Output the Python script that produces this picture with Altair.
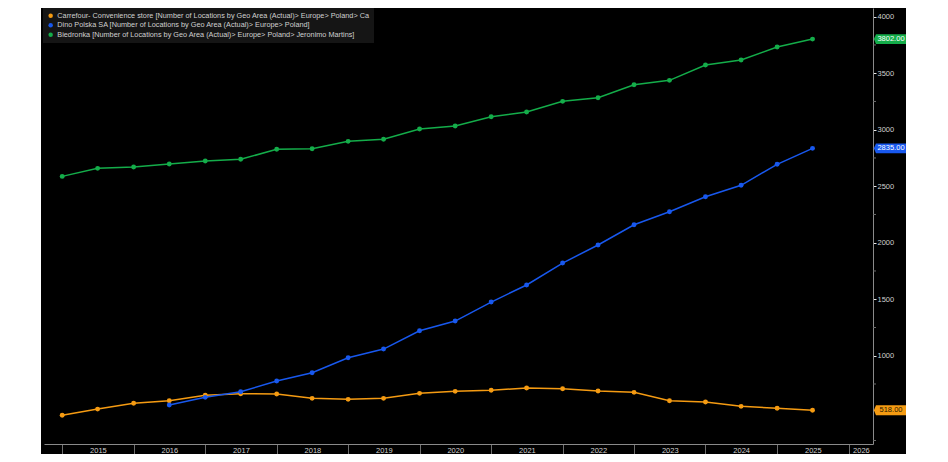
import altair as alt
import pandas as pd

# ---- data ----
dates = [f"{y}-{m}-01" for y in range(2015, 2026) for m in ("01", "07")]

carrefour_name = "Carrefour- Convenience store [Number of Locations by Geo Area (Actual)> Europe> Poland> Ca"
dino_name = "Dino Polska SA [Number of Locations by Geo Area (Actual)> Europe> Poland]"
biedronka_name = "Biedronka [Number of Locations by Geo Area (Actual)> Europe> Poland> Jeronimo Martins]"

carrefour = [473, 528, 579, 602, 650, 664, 661, 623, 614, 623, 667, 685,
             694, 714, 708, 688, 676, 602, 590, 552, 535, 518]
dino_dates = dates[3:]
dino = [564, 632, 681, 776, 850, 982, 1059, 1221, 1307, 1475, 1626, 1820,
        1980, 2159, 2274, 2407, 2508, 2694, 2835]
biedronka = [2587, 2658, 2670, 2696, 2723, 2738, 2827, 2832, 2897, 2915, 3006, 3033,
             3115, 3157, 3251, 3283, 3398, 3437, 3573, 3617, 3732, 3802]

series_names = [carrefour_name, dino_name, biedronka_name]
series_colors = ["#F59B12", "#1858EE", "#14AD4A"]
last_labels = ["518.00", "2835.00", "3802.00"]
last_values = [518, 2835, 3802]

year_ticks = list(range(2015, 2027))
y_major = list(range(1000, 4001, 500))
y_minor = list(range(250, 4001, 500))

# ---- tables ----
rows = []
for d, v in zip(dates, carrefour):
    rows.append({"date": d, "series": carrefour_name, "value": v})
for d, v in zip(dino_dates, dino):
    rows.append({"date": d, "series": dino_name, "value": v})
for d, v in zip(dates, biedronka):
    rows.append({"date": d, "series": biedronka_name, "value": v})
df = pd.DataFrame(rows)

last_df = pd.DataFrame({"series": series_names, "value": last_values, "label": last_labels})
minor_df = pd.DataFrame({"tick": y_minor})

W, H = 829, 436
FONT = "Liberation Sans"

x_scale = alt.Scale(
    type="utc",
    domain=[alt.DateTime(year=2014, month=9, date=30, utc=True),
            alt.DateTime(year=2026, month=5, date=6, utc=True)],
)
y_scale = alt.Scale(domain=[219, 4077], nice=False, zero=False)
color_scale = alt.Scale(domain=series_names, range=series_colors)

x_axis = alt.Axis(
    title=None,
    values=[alt.DateTime(year=y, month=1, date=1, utc=True) for y in year_ticks],
    format="%Y",
    formatType="utc",
    grid=False,
    domainColor="#8a8a8a",
    tickColor="#6e6e6e",
    tickSize=10,
    labelPadding=-8,
    labelBaseline="top",
    labelColor="#d0d0d0",
    labelFont=FONT,
    labelFontSize=7.5,
    labelOverlap=False,
    labelOffset={"condition": {"test": "utcyear(datum.value) == 2026", "value": 12.4}, "value": 35.7},
)
y_axis = alt.Axis(
    title=None,
    orient="right",
    values=y_major,
    format="d",
    labelOverlap=False,
    grid=False,
    domainColor="#8a8a8a",
    tickSize=3,
    tickColor="#e8e8e8",
    labelPadding=1,
    labelColor="#d0d0d0",
    labelFont=FONT,
    labelFontSize=7.5,
)

legend = alt.Legend(
    title=None,
    orient="none",
    legendX=-1,
    legendY=0,
    fillColor="#151515",
    padding=4,
    symbolType="circle",
    symbolSize=20,
    symbolOpacity=1,
    symbolStrokeWidth=0,
    labelFont=FONT,
    labelFontSize=7.3,
    labelColor="#d0d0d0",
    labelLimit=0,
    labelOffset=3,
    rowPadding=1.6,
)

# white page margins around the black panel
one = pd.DataFrame({"a": [0]})
mask_left = alt.Chart(one).mark_rect(color="white").encode(
    x=alt.value(-40), x2=alt.value(-3), y=alt.value(-5), y2=alt.value(H + 20)
)
mask_right = alt.Chart(one).mark_rect(color="white").encode(
    x=alt.value(W + 33), x2=alt.value(W + 50), y=alt.value(-5), y2=alt.value(H + 20)
)

base = alt.Chart(df).encode(
    x=alt.X("date:T", scale=x_scale, axis=x_axis),
    y=alt.Y("value:Q", scale=y_scale, axis=y_axis),
)

lines = base.mark_line(strokeWidth=1.5).encode(
    color=alt.Color("series:N", scale=color_scale, legend=legend)
)
points = base.mark_point(filled=True, size=24, opacity=1).encode(
    color=alt.Color("series:N", scale=color_scale, legend=legend)
)

minor = alt.Chart(minor_df).mark_rule(color="#6e6e6e", strokeWidth=1).encode(
    y=alt.Y("tick:Q", scale=y_scale),
    x=alt.value(W),
    x2=alt.value(W + 3),
)

box_shape = "M-1.14,0 L-1,-0.33 L1,-0.33 L1,0.33 L-1,0.33 Z"
boxes = alt.Chart(last_df).mark_point(shape=box_shape, filled=True, size=900, opacity=1).encode(
    x=alt.value(W + 18),
    y=alt.Y("value:Q", scale=y_scale),
    color=alt.Color("series:N", scale=color_scale, legend=None),
)
box_text = alt.Chart(last_df).mark_text(font=FONT, fontSize=7.5, align="center", baseline="middle").encode(
    x=alt.value(W + 18),
    y=alt.Y("value:Q", scale=y_scale),
    text="label:N",
    color=alt.condition(alt.datum.series == carrefour_name, alt.value("#2a1a00"), alt.value("white")),
)

chart = alt.layer(mask_left, mask_right, minor, lines, points, boxes, box_text).properties(
    width=W,
    height=H,
    background="black",
    padding={"left": 36, "top": 0, "right": 40, "bottom": 10},
    autosize=alt.AutoSizeParams(type="none"),
).configure_view(stroke=None)

chart.save("out.html", embed_options={"renderer": "svg", "actions": False})
